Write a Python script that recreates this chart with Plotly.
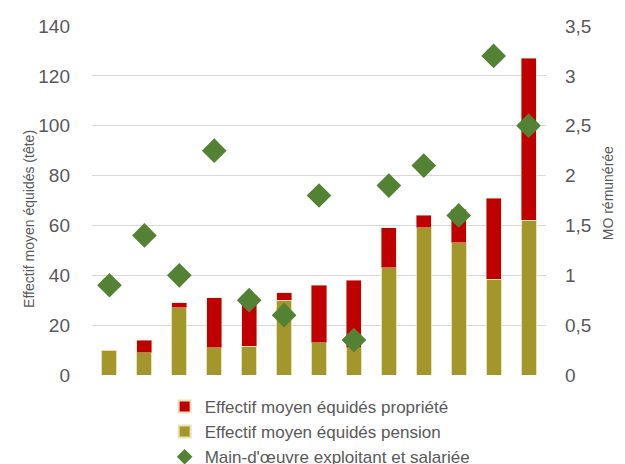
import plotly.graph_objects as go

# 13 exploitations, no x labels in the original
categories = [str(i) for i in range(1, 14)]
pension = [10, 9, 27, 11, 11.5, 30, 13, 11, 43, 59, 53, 38.5, 62]
propriete = [0, 5, 2, 20, 20.5, 3, 23, 27, 16, 5, 13.5, 32.5, 65]
main_oeuvre = [0.9, 1.4, 1.0, 2.25, 0.75, 0.6, 1.8, 0.35, 1.9, 2.1, 1.6, 3.2, 2.5]

fig = go.Figure()
fig.add_trace(go.Bar(x=categories, y=pension, name='Effectif moyen équidés pension',
                     marker=dict(color='#A3962B', line=dict(color='#E8E2B8', width=1)),
                     legendrank=2))
fig.add_trace(go.Bar(x=categories, y=propriete, name='Effectif moyen équidés propriété',
                     marker=dict(color='#C00000', line=dict(color='#E8E2B8', width=0.5)),
                     legendrank=1))
fig.add_trace(go.Scatter(x=categories, y=main_oeuvre, yaxis='y2', mode='markers',
                         name="Main-d'œuvre exploitant et salariée",
                         marker=dict(symbol='diamond', size=19, color='#548235'),
                         legendrank=3))

# axis titles as annotations, the left one sits a bit low like in the original
fig.add_annotation(text='Effectif moyen équidés (tête)', textangle=-90,
                   xref='paper', yref='paper', x=-0.161, y=0.447,
                   showarrow=False, font=dict(size=14, color='#595959'))
fig.add_annotation(text='MO rémunérée', textangle=-90,
                   xref='paper', yref='paper', x=1.158, y=0.52,
                   showarrow=False, font=dict(size=14, color='#595959'))

fig.update_layout(
    barmode='stack', bargap=0.57,
    width=625, height=464,
    margin=dict(l=92, r=79, t=26, b=89, autoexpand=False),
    plot_bgcolor='white', paper_bgcolor='white',
    separators=', ',
    font=dict(family='Liberation Sans, Arial', color='#595959'),
    xaxis=dict(showticklabels=False, showgrid=False, zeroline=False,
               range=[-0.5, len(categories) - 0.5],
               showline=False, ticks='', automargin=False),
    yaxis=dict(range=[0, 140], dtick=20, showgrid=True, gridcolor='#D9D9D9',
               gridwidth=1, zeroline=False, tickfont=dict(size=19),
               ticklabelstandoff=21, automargin=False),
    yaxis2=dict(range=[0, 3.5], dtick=0.5, overlaying='y', side='right',
                showgrid=False, zeroline=False, tickfont=dict(size=19),
                ticklabelstandoff=18, automargin=False),
    legend=dict(orientation='v', x=0.16, xanchor='left', y=-0.04, yanchor='top',
                font=dict(size=17), tracegroupgap=0, itemwidth=30,
                traceorder='normal', itemsizing='constant',
                bgcolor='rgba(0,0,0,0)'),
)

# page has a default 8px body margin, drop it so the figure fills the window
fig.write_html("out.html", config={'displayModeBar': False},
               post_script="document.body.style.margin='0';")
